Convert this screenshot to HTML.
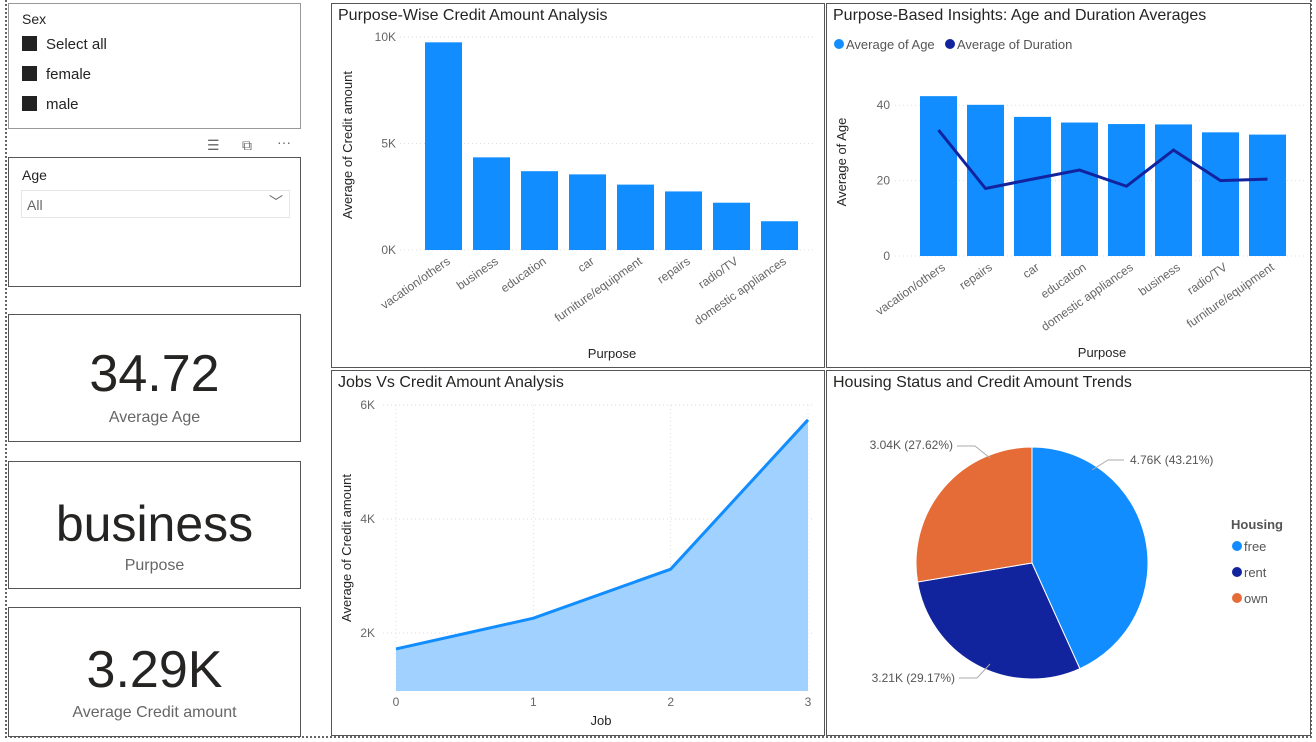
<!DOCTYPE html>
<html><head><meta charset="utf-8"><style>
body{margin:0;width:1316px;height:742px;background:#fff;font-family:"Liberation Sans",sans-serif;position:relative;overflow:hidden;color:#252423}
.box{position:absolute;border:1px solid #555;background:#fff;box-sizing:border-box}
.t{position:absolute;white-space:nowrap}
svg{position:absolute;left:0;top:0}
</style></head><body>
<div style="position:absolute;left:5px;top:0;width:1307px;height:738px;border-left:2px dotted #666;border-right:2px dotted #666;border-bottom:2px dotted #666;box-sizing:border-box"></div>

<div class="box" style="left:8px;top:3px;width:293px;height:126px;border-color:#999">
 <div class="t" style="left:13px;top:7px;font-size:14px">Sex</div>
 <div class="t" style="left:13px;top:32px;font-size:15px"><span style="display:inline-block;width:15px;height:15px;background:#222;vertical-align:-2px;margin-right:9px"></span>Select all</div>
 <div class="t" style="left:13px;top:62px;font-size:15px"><span style="display:inline-block;width:15px;height:15px;background:#222;vertical-align:-2px;margin-right:9px"></span>female</div>
 <div class="t" style="left:13px;top:92px;font-size:15px"><span style="display:inline-block;width:15px;height:15px;background:#222;vertical-align:-2px;margin-right:9px"></span>male</div>
</div>
<div class="t" style="left:207px;top:137px;font-size:14px;color:#666">☰</div>
<div class="t" style="left:242px;top:137px;font-size:14px;color:#666">⧉</div>
<div class="t" style="left:277px;top:134px;font-size:14px;color:#666">···</div>

<div class="box" style="left:8px;top:157px;width:293px;height:130px">
 <div class="t" style="left:13px;top:9px;font-size:14px">Age</div>
 <div style="position:absolute;left:12px;top:32px;width:267px;height:26px;border:1px solid #e6e6e6">
  <div class="t" style="left:5px;top:6px;font-size:14px;color:#666">All</div>
  <div class="t" style="right:6px;top:1px;font-size:14px;color:#666">﹀</div>
 </div>
</div>

<div class="box" style="left:8px;top:314px;width:293px;height:128px">
 <div class="t" style="left:0;width:291px;text-align:center;top:29px;font-size:52px;color:#252423">34.72</div>
 <div class="t" style="left:0;width:291px;text-align:center;top:94px;font-size:16px;color:#666">Average Age</div>
</div>
<div class="box" style="left:8px;top:461px;width:293px;height:128px">
 <div class="t" style="left:0;width:291px;text-align:center;top:33px;font-size:50px">business</div>
 <div class="t" style="left:0;width:291px;text-align:center;top:95px;font-size:16px;color:#666">Purpose</div>
</div>
<div class="box" style="left:8px;top:607px;width:293px;height:130px">
 <div class="t" style="left:0;width:291px;text-align:center;top:32px;font-size:52px">3.29K</div>
 <div class="t" style="left:0;width:291px;text-align:center;top:96px;font-size:16px;color:#666">Average Credit amount</div>
</div>

<div class="box" style="left:331px;top:3px;width:494px;height:365px"></div>
<div class="box" style="left:826px;top:3px;width:485px;height:365px"></div>
<div class="box" style="left:331px;top:370px;width:494px;height:366px"></div>
<div class="box" style="left:826px;top:370px;width:485px;height:366px"></div>

<svg id="s" width="1316" height="742" font-family="Liberation Sans, sans-serif"></svg>
<script>
const c1Cats=["vacation/others","business","education","car","furniture/equipment","repairs","radio/TV","domestic appliances"];
const c1Vals=[9.75,4.35,3.7,3.55,3.07,2.75,2.22,1.35];
const c1Ticks=[0,5,10];
const c2Cats=["vacation/others","repairs","car","education","domestic appliances","business","radio/TV","furniture/equipment"];
const c2Age=[42.4,40.1,36.9,35.4,35.0,34.9,32.8,32.2];
const c2Dur=[33.4,17.9,20.4,22.8,18.5,28.1,20.0,20.4];
const c2Ticks=[0,20,40];
const c3Jobs=[0,1,2,3];
const c3Vals=[1.72,2.26,3.12,5.74];
const c3Ticks=[2,4,6];
const pieCats=["free","rent","own"];
const pieVals=[4.76,3.21,3.04];
const pieLabels=["4.76K (43.21%)","3.21K (29.17%)","3.04K (27.62%)"];
const pieColors=["#118DFF","#12239E","#E66C37"];

const S=document.getElementById('s');const NS="http://www.w3.org/2000/svg";
function mk(tag,attrs,txt){const e=document.createElementNS(NS,tag);for(const k in attrs)e.setAttribute(k,attrs[k]);if(txt!==undefined)e.textContent=txt;S.appendChild(e);return e;}

let e;
e=mk('text',{x:338,y:20,'font-size':16,fill:'#252423'},'Purpose-Wise Credit Amount Analysis');


e=mk('text',{x:833,y:20,'font-size':16,fill:'#252423'},'Purpose-Based Insights: Age and Duration Averages');


e=mk('text',{x:338,y:387,'font-size':16,fill:'#252423'},'Jobs Vs Credit Amount Analysis');


e=mk('text',{x:833,y:387,'font-size':16,fill:'#252423'},'Housing Status and Credit Amount Trends');



// chart 1
const y1=v=>250-v*21.3, x1=i=>425+i*48;
c1Ticks.forEach(t=>{mk('line',{x1:400,x2:815,y1:y1(t),y2:y1(t),stroke:'#ddd','stroke-dasharray':'1 3'});
 e=mk('text',{x:396,y:y1(t)+4,'font-size':12,fill:'#666','text-anchor':'end'},t+'K');
 
 });
c1Vals.forEach((v,i)=>{e=mk('rect',{x:x1(i),y:y1(v),width:37,height:y1(0)-y1(v),fill:'#118DFF'});
 
 
 e=mk('text',{x:x1(i)+26,y:263,'font-size':12,fill:'#666','text-anchor':'end',transform:`rotate(-35 ${x1(i)+26} 263)`},c1Cats[i]);
 
 });
e=mk('text',{x:352,y:145,'font-size':13,fill:'#252423','text-anchor':'middle',transform:'rotate(-90 352 145)'},'Average of Credit amount');


e=mk('text',{x:612,y:358,'font-size':13,fill:'#252423','text-anchor':'middle'},'Purpose');



// chart 2
const y2=v=>256-v*3.77, x2=i=>920+i*47;
c2Ticks.forEach(t=>{mk('line',{x1:895,x2:1305,y1:y2(t),y2:y2(t),stroke:'#ddd','stroke-dasharray':'1 3'});
 e=mk('text',{x:890,y:y2(t)+4,'font-size':12,fill:'#666','text-anchor':'end'},t);
 
 });
c2Age.forEach((v,i)=>{e=mk('rect',{x:x2(i),y:y2(v),width:37,height:y2(0)-y2(v),fill:'#118DFF'});
 
 
 e=mk('text',{x:x2(i)+26,y:269,'font-size':12,fill:'#666','text-anchor':'end',transform:`rotate(-35 ${x2(i)+26} 269)`},c2Cats[i]);
 
 });
e=mk('polyline',{points:c2Dur.map((v,i)=>`${x2(i)+18.5},${y2(v)}`).join(' '),fill:'none',stroke:'#12239E','stroke-width':3});


mk('circle',{cx:839,cy:44,r:5,fill:'#118DFF'});
e=mk('text',{x:846,y:49,'font-size':13,fill:'#555'},'Average of Age');


mk('circle',{cx:950,cy:44,r:5,fill:'#12239E'});
e=mk('text',{x:957,y:49,'font-size':13,fill:'#555'},'Average of Duration');


e=mk('text',{x:846,y:162,'font-size':13,fill:'#252423','text-anchor':'middle',transform:'rotate(-90 846 162)'},'Average of Age');


e=mk('text',{x:1102,y:357,'font-size':13,fill:'#252423','text-anchor':'middle'},'Purpose');



// chart 3
const y3=v=>747-v*57, x3=j=>396+j*(412/3), base=691;
c3Ticks.forEach(t=>{mk('line',{x1:383,x2:815,y1:y3(t),y2:y3(t),stroke:'#ddd','stroke-dasharray':'1 3'});
 e=mk('text',{x:375,y:y3(t)+4,'font-size':12,fill:'#666','text-anchor':'end'},t+'K');
 
 });
c3Jobs.forEach(j=>{mk('line',{x1:x3(j),x2:x3(j),y1:405,y2:base,stroke:'#ddd','stroke-dasharray':'1 3'});
 e=mk('text',{x:x3(j),y:706,'font-size':12,fill:'#666','text-anchor':'middle'},j);
 
 });
const pts=c3Vals.map((v,i)=>`${x3(c3Jobs[i])},${y3(v)}`).join(' ');
e=mk('polygon',{points:`${x3(c3Jobs[0])},${base} ${pts} ${x3(c3Jobs[c3Jobs.length-1])},${base}`,fill:'#A0D1FF'});


e=mk('polyline',{points:pts,fill:'none',stroke:'#118DFF','stroke-width':3});


e=mk('text',{x:351,y:548,'font-size':13,fill:'#252423','text-anchor':'middle',transform:'rotate(-90 351 548)'},'Average of Credit amount');


e=mk('text',{x:601,y:725,'font-size':13,fill:'#252423','text-anchor':'middle'},'Job');



// pie
const cx=1032,cy=563,r=116,tot=pieVals.reduce((a,b)=>a+b,0);let a0=-Math.PI/2;
const lblPos=[[1130,464,'start'],[955,682,'end'],[953,449,'end']];
const leaders=[[[1092,470],[1108,460],[1124,460]],[[990,664],[977,678],[959,678]],[[990,458],[975,446],[957,446]]];
pieVals.forEach((v,i)=>{const a1=a0+v/tot*2*Math.PI;const big=(a1-a0)>Math.PI?1:0;
 e=mk('path',{d:`M${cx},${cy} L${cx+r*Math.cos(a0)},${cy+r*Math.sin(a0)} A${r},${r} 0 ${big} 1 ${cx+r*Math.cos(a1)},${cy+r*Math.sin(a1)} Z`,fill:pieColors[i],stroke:'#fff','stroke-width':1});
 
 
 const [lx,ly,an]=lblPos[i];
 mk('polyline',{points:leaders[i].map(p=>p.join(',')).join(' '),fill:'none',stroke:'#aaa'});
 e=mk('text',{x:lx,y:ly,'font-size':12,fill:'#555','text-anchor':an},pieLabels[i]);
 
 
 a0=a1;});
e=mk('text',{x:1231,y:529,'font-size':13,'font-weight':'bold',fill:'#555'},'Housing');


pieCats.forEach((c,i)=>{mk('circle',{cx:1237,cy:546+i*26,r:5,fill:pieColors[i]});
 e=mk('text',{x:1244,y:551+i*26,'font-size':13,fill:'#555'},c);
 
 });
</script>
</body></html>
